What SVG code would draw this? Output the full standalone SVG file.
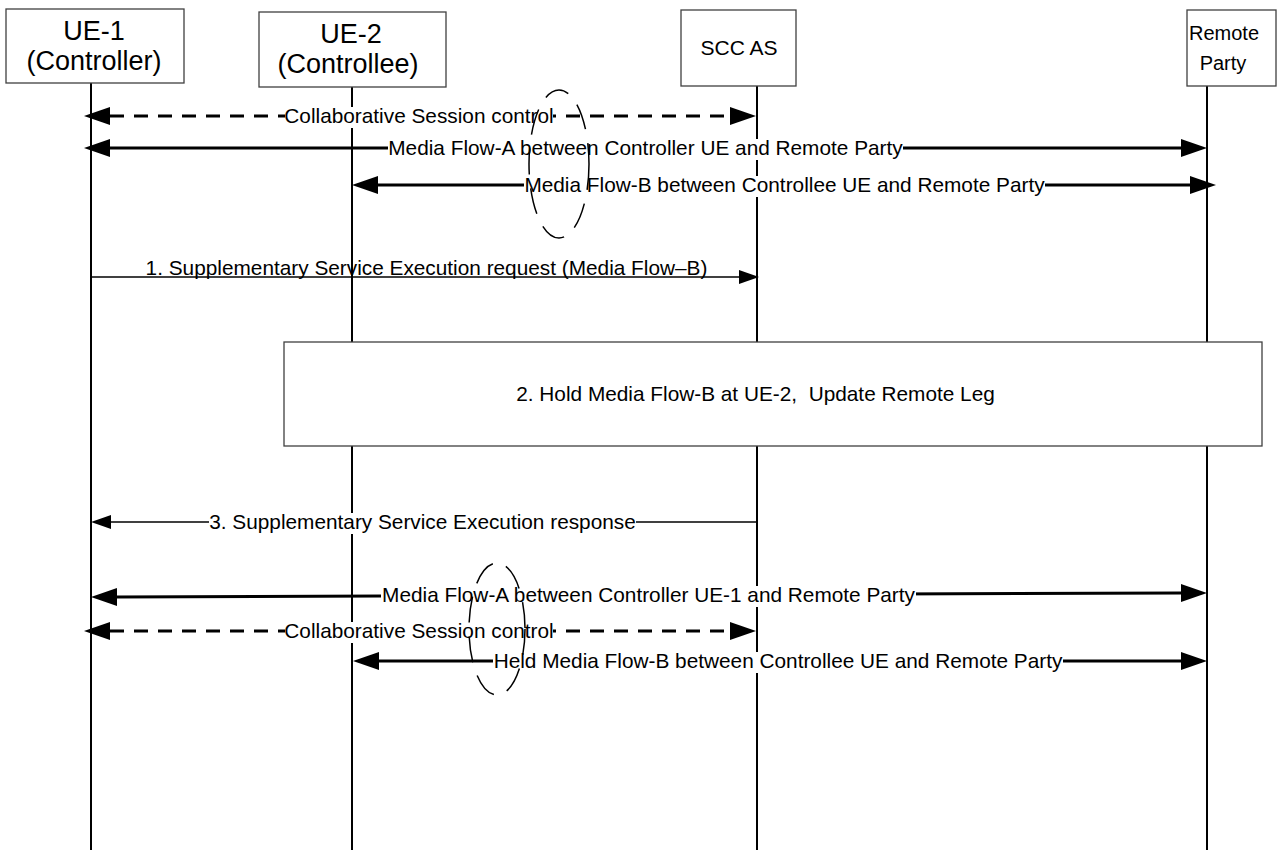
<svg xmlns="http://www.w3.org/2000/svg" width="1284" height="850" viewBox="0 0 1284 850">
<style>
.box{fill:#fff;stroke:#404040;stroke-width:1.3}
.life{stroke:#000;stroke-width:2}
.hdr{font-family:"Liberation Sans",Arial,sans-serif;text-anchor:middle;fill:#000}
.lbl{font-family:"Liberation Sans",Arial,sans-serif;font-size:20.8px;text-anchor:middle;fill:#000}
.thick{stroke:#000;stroke-width:3;fill:none}
.dash{stroke-dasharray:14 10}
.thin{stroke:#000;stroke-width:1.3;fill:none}
.bg{fill:#fff}
.ell{fill:none;stroke:#000;stroke-width:1.5;stroke-dasharray:26 14}
</style>
<defs>
<marker id="ah" viewBox="0 0 26 18" refX="0" refY="9" markerWidth="26" markerHeight="18" markerUnits="userSpaceOnUse" orient="auto-start-reverse"><path d="M0,0 L26,9 L0,18 Z" fill="#000"/></marker>
<marker id="ahs" viewBox="0 0 20 14" refX="0" refY="7" markerWidth="20" markerHeight="14" markerUnits="userSpaceOnUse" orient="auto-start-reverse"><path d="M0,0 L20,7 L0,14 Z" fill="#000"/></marker>
</defs>
<rect width="1284" height="850" fill="#fff"/>

<g id="ue1">
<line class="life" x1="91" y1="83" x2="91" y2="850"/>
<rect class="box" x="6" y="9" width="178" height="74"/>
<text class="hdr" x="94" y="40" font-size="27">UE-1</text>
<text class="hdr" x="94" y="70" font-size="27">(Controller)</text>
</g>
<g id="ue2">
<line class="life" x1="352" y1="87" x2="352" y2="850"/>
<rect class="box" x="259" y="12" width="187" height="75"/>
<text class="hdr" x="351" y="43" font-size="27">UE-2</text>
<text class="hdr" x="348" y="73" font-size="27">(Controllee)</text>
</g>
<g id="sccas">
<line class="life" x1="757" y1="86" x2="757" y2="850"/>
<rect class="box" x="681" y="10" width="115" height="76"/>
<text class="hdr" x="739" y="55" font-size="21">SCC AS</text>
</g>
<g id="remote">
<line class="life" x1="1207" y1="86" x2="1207" y2="850"/>
<rect class="box" x="1187" y="10" width="89" height="76"/>
<text class="hdr" x="1224" y="40" font-size="20">Remote</text>
<text class="hdr" x="1223" y="70" font-size="20">Party</text>
</g>

<g id="step2">
<rect class="box" x="284" y="342" width="978" height="104"/>
<text class="lbl" x="755.5" y="401" xml:space="preserve">2. Hold Media Flow-B at UE-2,  Update Remote Leg</text>
</g>

<g id="connectors">
<line class="thick dash" x1="110" y1="116" x2="730" y2="116" marker-start="url(#ah)" marker-end="url(#ah)"/>
<rect class="bg" x="285" y="107" width="268" height="21"/>
<text class="lbl" x="419" y="123">Collaborative Session control</text>

<line class="thick" x1="110" y1="148" x2="1181" y2="148" marker-start="url(#ah)" marker-end="url(#ah)"/>
<rect class="bg" x="388" y="139" width="515" height="21"/>
<text class="lbl" x="645.5" y="155">Media Flow-A between Controller UE and Remote Party</text>

<line class="thick" x1="378" y1="185" x2="1190" y2="185" marker-start="url(#ah)" marker-end="url(#ah)"/>
<rect class="bg" x="524" y="176" width="521" height="21"/>
<text class="lbl" x="784.5" y="192">Media Flow-B between Controllee UE and Remote Party</text>

<line class="thin" x1="91" y1="277" x2="739" y2="277" marker-end="url(#ahs)"/>
<text class="lbl" x="426.5" y="275">1. Supplementary Service Execution request (Media Flow–B)</text>

<line class="thin" x1="757" y1="522" x2="111" y2="522" marker-end="url(#ahs)"/>
<rect class="bg" x="209" y="513" width="427" height="21"/>
<text class="lbl" x="422.5" y="529">3. Supplementary Service Execution response</text>

<line class="thick" x1="117" y1="597" x2="1181" y2="593" marker-start="url(#ah)" marker-end="url(#ah)"/>
<rect class="bg" x="381" y="586" width="535" height="21"/>
<text class="lbl" x="648.5" y="602">Media Flow-A between Controller UE-1 and Remote Party</text>

<line class="thick dash" x1="110" y1="631" x2="730" y2="631" marker-start="url(#ah)" marker-end="url(#ah)"/>
<rect class="bg" x="285" y="622" width="268" height="21"/>
<text class="lbl" x="419" y="638">Collaborative Session control</text>

<line class="thick" x1="379" y1="661" x2="1181" y2="661" marker-start="url(#ah)" marker-end="url(#ah)"/>
<rect class="bg" x="493" y="652" width="570" height="21"/>
<text class="lbl" x="778" y="668">Held Media Flow-B between Controllee UE and Remote Party</text>
</g>

<g id="annotations">
<ellipse class="ell" cx="559" cy="164" rx="30" ry="74"/>
<ellipse class="ell" cx="497" cy="629" rx="28" ry="66"/>
</g>
</svg>
